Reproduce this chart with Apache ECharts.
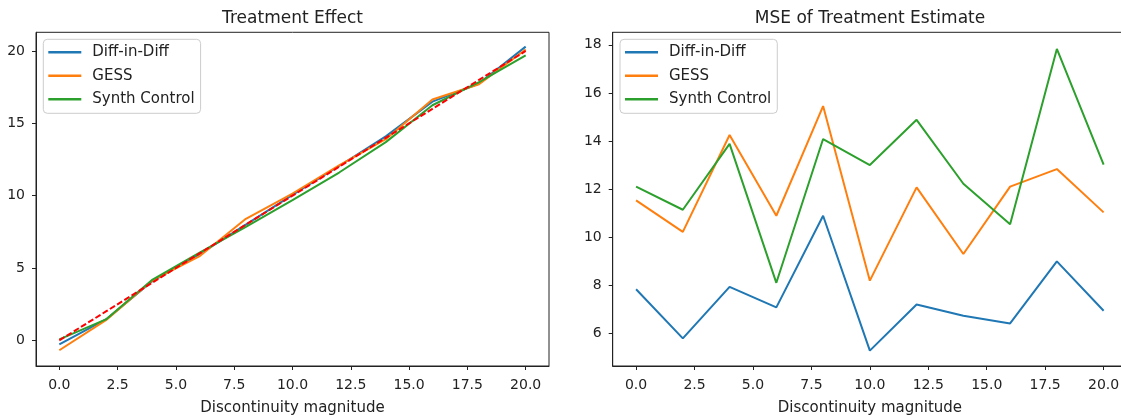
<!DOCTYPE html>
<html>
<head>
<meta charset="utf-8">
<script src="https://cdn.jsdelivr.net/npm/echarts@6/dist/echarts.min.js"></script>
<style>
  html, body { margin: 0; padding: 0; background: #fff; }
  #chart { width: 1121px; height: 420px; }
</style>
</head>
<body>
<div id="chart"></div>
<script>
// Discontinuity magnitudes (shared x values)
const magnitudes = [0, 2, 4, 6, 8, 10, 12, 14, 16, 18, 20];

// Estimated treatment effect per method
const effectDiD   = [-0.28, 1.45, 4.1, 5.95, 8.0, 10.05, 12.05, 14.1, 16.5, 17.75, 20.3];
const effectGESS  = [-0.68, 1.4, 4.15, 5.8, 8.4, 10.15, 12.1, 13.9, 16.65, 17.7, 20.1];
const effectSynth = [0.07, 1.45, 4.2, 6.05, 7.85, 9.7, 11.6, 13.7, 16.25, 17.85, 19.7];
// True effect equals the magnitude
const effectTrue  = [0, 2, 4, 6, 8, 10, 12, 14, 16, 18, 20];

// MSE of the treatment estimate per method
const mseDiD   = [7.83, 5.79, 7.93, 7.08, 10.89, 5.28, 7.2, 6.73, 6.41, 8.99, 6.94];
const mseGESS  = [11.53, 10.22, 14.25, 10.89, 15.45, 8.19, 12.07, 9.3, 12.1, 12.83, 11.03];
const mseSynth = [12.1, 11.14, 13.88, 8.1, 14.08, 13.0, 14.88, 12.22, 10.54, 17.83, 13.02];

// Tick labels
const xTicks = [0, 2.5, 5, 7.5, 10, 12.5, 15, 17.5, 20];
const yTicksEffect = [0, 5, 10, 15, 20];
const yTicksMse = [6, 8, 10, 12, 14, 16, 18];

const methodNames = ['Diff-in-Diff', 'GESS', 'Synth Control'];
const colors = ['#1f77b4', '#ff7f0e', '#2ca02c'];

const FONT = 'DejaVu Sans';
const INK = '#222';

const pair = (ys) => magnitudes.map((x, i) => [x, ys[i]]);

function xAxisFor(gridIndex) {
  return {
    type: 'value', gridIndex, min: -1, max: 21,
    name: 'Discontinuity magnitude', nameLocation: 'middle', nameGap: 35,
    nameTextStyle: { fontFamily: FONT, fontSize: 15, color: INK },
    axisLine: { show: true, onZero: false, lineStyle: { color: INK, width: 1 } },
    axisTick: { show: true, length: 4, inside: false, customValues: xTicks, lineStyle: { color: INK } },
    axisLabel: { customValues: xTicks, margin: 12, fontFamily: FONT, fontSize: 14, color: INK,
                 formatter: (v) => v.toFixed(1) },
    splitLine: { show: false }
  };
}

function yAxisFor(gridIndex, min, max, ticks) {
  return {
    type: 'value', gridIndex, min, max,
    axisLine: { show: true, onZero: false, lineStyle: { color: INK, width: 1 } },
    axisTick: { show: true, length: 4, inside: false, customValues: ticks, lineStyle: { color: INK } },
    axisLabel: { customValues: ticks, margin: 11, fontFamily: FONT, fontSize: 14, color: INK },
    splitLine: { show: false }
  };
}

function lineSeries(name, ys, color, idx) {
  return {
    type: 'line', name, data: pair(ys), xAxisIndex: idx, yAxisIndex: idx,
    showSymbol: false, symbol: 'none', smooth: false,
    lineStyle: { color, width: 2 }, itemStyle: { color },
    emphasis: { disabled: true }, animation: false
  };
}

function legendFor(left) {
  return {
    data: methodNames, orient: 'vertical', left, top: 39.3,
    icon: 'rect', itemWidth: 33, itemHeight: 2.5, itemGap: 8.5,
    padding: [5.5, 6, 6.5, 5],
    backgroundColor: 'rgba(255,255,255,0.8)', borderColor: '#ccc', borderWidth: 1, borderRadius: 4,
    textStyle: { fontFamily: FONT, fontSize: 15, color: INK, padding: [0, 0, 0, 6] },
    selectedMode: false
  };
}

const chart = echarts.init(document.getElementById('chart'), null, { renderer: 'canvas' });

const option = {
  backgroundColor: '#fff',
  animation: false,
  title: [
    { text: 'Treatment Effect', left: 292.5, top: 10, textAlign: 'center', padding: 0,
      textStyle: { fontFamily: FONT, fontSize: 17, fontWeight: 'normal', color: INK } },
    { text: 'MSE of Treatment Estimate', left: 870, top: 10, textAlign: 'center', padding: 0,
      textStyle: { fontFamily: FONT, fontSize: 17, fontWeight: 'normal', color: INK } }
  ],
  legend: [
    Object.assign(legendFor(43.3), { id: 'legL' }),
    Object.assign(legendFor(620), { id: 'legR' })
  ],
  grid: [
    { left: 36, top: 32.3, width: 513, height: 333.7, show: true, borderColor: INK, borderWidth: 1,
      backgroundColor: 'transparent', containLabel: false, outerBoundsMode: 'none' },
    { left: 612.7, top: 32.3, width: 514.3, height: 333.7, show: true, borderColor: INK, borderWidth: 1,
      backgroundColor: 'transparent', containLabel: false, outerBoundsMode: 'none' }
  ],
  xAxis: [xAxisFor(0), xAxisFor(1)],
  yAxis: [
    yAxisFor(0, -1.77, 21.29, yTicksEffect),
    yAxisFor(1, 4.64, 18.52, yTicksMse)
  ],
  series: [
    lineSeries(methodNames[0], effectDiD, colors[0], 0),
    lineSeries(methodNames[1], effectGESS, colors[1], 0),
    lineSeries(methodNames[2], effectSynth, colors[2], 0),
    {
      type: 'line', name: 'Truth', data: pair(effectTrue), xAxisIndex: 0, yAxisIndex: 0,
      showSymbol: false, symbol: 'none',
      lineStyle: { color: '#ff0000', width: 2, type: [6, 2.5] },
      emphasis: { disabled: true }, animation: false
    },
    lineSeries(methodNames[0], mseDiD, colors[0], 1),
    lineSeries(methodNames[1], mseGESS, colors[1], 1),
    lineSeries(methodNames[2], mseSynth, colors[2], 1)
  ]
};

chart.setOption(option);
</script>
</body>
</html>
